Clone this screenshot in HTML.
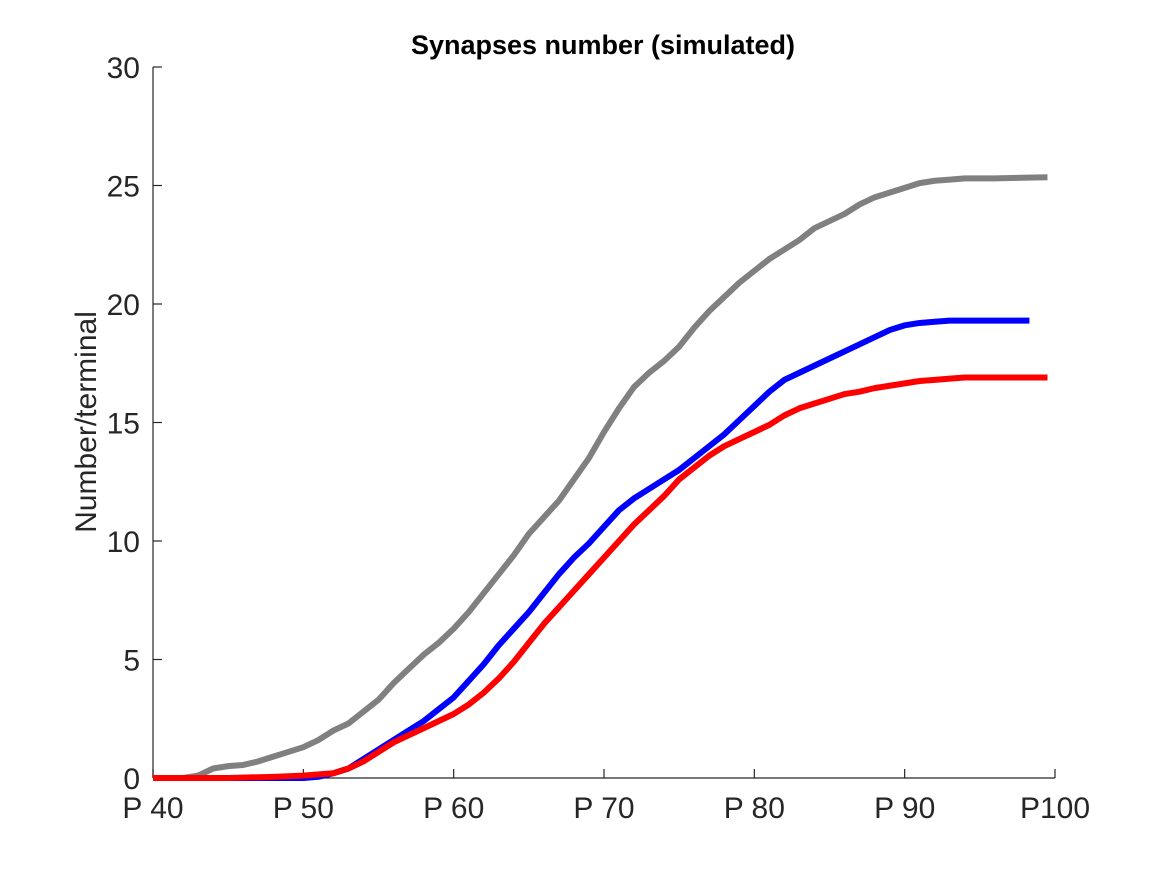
<!DOCTYPE html>
<html><head><meta charset="utf-8"><style>
body{margin:0;background:#fff;}
svg{display:block;font-family:"Liberation Sans",Arial,sans-serif;}
</style></head><body>
<svg id="chart" width="1167" height="875">
<rect width="1167" height="875" fill="#fff"/>
<text x="603" y="54" text-anchor="middle" font-size="27" font-weight="bold" fill="#000">Synapses number (simulated)</text>
<text transform="translate(96,422) rotate(-90)" text-anchor="middle" font-size="30" fill="#262626">Number/terminal</text>
<g id="axes"></g>
<g id="series"></g>
</svg>
<script>
const xTicks=[40,50,60,70,80,90,100];
const xTickLabels=["P 40","P 50","P 60","P 70","P 80","P 90","P100"];
const yTicks=[0,5,10,15,20,25,30];
const grayX=[40,42,43,44,45,46,47,48,49,50,51,52,53,54,55,56,57,58,59,60,61,62,63,64,65,66,67,68,69,70,71,72,73,74,75,76,77,78,79,80,81,82,83,84,85,86,87,88,89,90,91,92,93,94,96,99.5];
const grayY=[0,0,0.1,0.4,0.5,0.55,0.7,0.9,1.1,1.3,1.6,2.0,2.3,2.8,3.3,4.0,4.6,5.2,5.7,6.3,7.0,7.8,8.6,9.4,10.3,11.0,11.7,12.6,13.5,14.6,15.6,16.5,17.1,17.6,18.2,19.0,19.7,20.3,20.9,21.4,21.9,22.3,22.7,23.2,23.5,23.8,24.2,24.5,24.7,24.9,25.1,25.2,25.25,25.3,25.3,25.35];
const blueX=[40,50,51,52,53,54,55,56,57,58,59,60,61,62,63,64,65,66,67,68,69,70,71,72,73,74,75,76,77,78,79,80,81,82,83,84,85,86,87,88,89,90,91,92,93,98.3];
const blueY=[0,0,0.05,0.2,0.4,0.8,1.2,1.6,2.0,2.4,2.9,3.4,4.1,4.8,5.6,6.3,7.0,7.8,8.6,9.3,9.9,10.6,11.3,11.8,12.2,12.6,13.0,13.5,14.0,14.5,15.1,15.7,16.3,16.8,17.1,17.4,17.7,18.0,18.3,18.6,18.9,19.1,19.2,19.25,19.3,19.3];
const redX=[40,45,48,50,52,53,54,55,56,57,58,59,60,61,62,63,64,65,66,67,68,69,70,71,72,73,74,75,76,77,78,79,80,81,82,83,84,85,86,87,88,89,90,91,92,93,94,99.5];
const redY=[0,0,0.05,0.1,0.2,0.4,0.7,1.1,1.5,1.8,2.1,2.4,2.7,3.1,3.6,4.2,4.9,5.7,6.5,7.2,7.9,8.6,9.3,10.0,10.7,11.3,11.9,12.6,13.1,13.6,14.0,14.3,14.6,14.9,15.3,15.6,15.8,16.0,16.2,16.3,16.45,16.55,16.65,16.75,16.8,16.85,16.9,16.9];
const X=v=>153+(v-40)*(1055-153)/60;
const Y=v=>778-v*(778-67)/30;
const NS="http://www.w3.org/2000/svg";
const ax=document.getElementById('axes'),sg=document.getElementById('series');
function mk(t,a,p){const e=document.createElementNS(NS,t);for(const k in a)e.setAttribute(k,a[k]);p.appendChild(e);return e;}
let l=mk('line',{x1:153,y1:67,x2:153,y2:778,stroke:'#262626','stroke-width':1.2},ax);


l=mk('line',{x1:153,y1:778,x2:1055,y2:778,stroke:'#262626','stroke-width':1.2},ax);


xTicks.forEach((v,i)=>{
 mk('line',{x1:X(v),y1:778,x2:X(v),y2:769,stroke:'#262626','stroke-width':1.2},ax);
 const t=mk('text',{x:X(v),y:818,'text-anchor':'middle','font-size':30,fill:'#262626'},ax);
 t.textContent=xTickLabels[i];
 
 
});
yTicks.forEach(v=>{
 mk('line',{x1:153,y1:Y(v),x2:162,y2:Y(v),stroke:'#262626','stroke-width':1.2},ax);
 const t=mk('text',{x:140,y:Y(v)+11,'text-anchor':'end','font-size':30,fill:'#262626'},ax);
 t.textContent=v;
 
 
});
function line(xs,ys,c,name){
 const p=mk('polyline',{points:xs.map((x,i)=>X(x)+','+Y(ys[i])).join(' '),fill:'none',stroke:c,'stroke-width':6,'stroke-linejoin':'round'},sg);
 
 
}
line(grayX,grayY,'#808080','gray-series-line');
line(blueX,blueY,'#0000ff','blue-series-line');
line(redX,redY,'#ff0000','red-series-line');
</script>
</body></html>
